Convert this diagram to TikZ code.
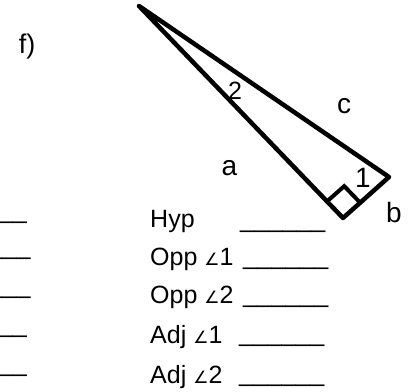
\documentclass[tikz,border=0pt]{standalone}
\usepackage{fontspec}
\setmainfont{Liberation Sans}
\newfontfamily\djv{DejaVu Sans}
\usetikzlibrary{calc}
\newcommand\angsym{{\djv\fontsize{17}{17}\selectfont ∠}}
\begin{document}
\begin{tikzpicture}[x=1pt,y=-1pt,
  tri/.style={line width=4.5pt,line join=round},
  sq/.style={line width=4pt},
  lbl/.style={inner sep=0pt,font=\fontsize{28}{28}\selectfont,anchor=base},
  smalllbl/.style={inner sep=0pt,font=\fontsize{25}{25}\selectfont,anchor=base},
  row/.style={inner sep=0pt,font=\fontsize{25}{25}\selectfont,anchor=base west},
  blank/.style={inner sep=0pt,font=\fontsize{25.5}{25.5}\selectfont,anchor=base west},
  lblank/.style={inner sep=0pt,font=\fontsize{25.5}{25.5}\selectfont,anchor=base east}]
\useasboundingbox (0,0) rectangle (409,391);
% triangle
\coordinate (T) at (139,6);
\coordinate (R) at (389,177);
\coordinate (B) at (343,218);
\draw[tri] (T) -- (R) -- (B) -- cycle;
\coordinate (P) at ($(B)!23pt!(T)$);
\coordinate (S) at ($(B)!23pt!(R)$);
\coordinate (Q) at ($(P)+(S)-(B)$);
\draw[sq] (P) -- (Q) -- (S);
% labels
\node[lbl,font=\fontsize{27}{27}\selectfont] (f) at (27,53) {f)};
\node[smalllbl] (n2) at (235,99) {2};
\node[lbl] (c) at (344,113) {c};
\node[lbl] (a) at (229.5,175) {a};
\node[lbl] (n1) at (363,187) {1};
\node[lbl] (b) at (394,222) {b};
% rows
\node[row] (hyp) at (150,227) {Hyp};
\node[row] (opp1) at (150,265) {Opp \angsym1};
\node[row] (opp2) at (150,303.5) {Opp \angsym2};
\node[row] (adj1) at (150,343) {Adj \angsym1};
\node[row] (adj2) at (150,383) {Adj \angsym2};
\node[blank] (hypb) at (240,227.4) {\_\_\_\_\_\_};
\node[blank] (opp1b) at (243,264.4) {\_\_\_\_\_\_};
\node[blank] (opp2b) at (243,302.9) {\_\_\_\_\_\_};
\node[blank] (adj1b) at (239,341.4) {\_\_\_\_\_\_};
\node[blank] (adj2b) at (239,381.4) {\_\_\_\_\_\_};
% left column blanks (cut off at the edge, as in the reference)
\node[lblank] (l1) at (27,218.1) {\_\_\_};
\node[lblank] (l2) at (30.7,254.7) {\_\_\_};
\node[lblank] (l3) at (30.7,293.7) {\_\_\_};
\node[lblank] (l4) at (27,332.4) {\_\_\_};
\node[lblank] (l5) at (27,371.4) {\_\_\_};
\end{tikzpicture}
\end{document}
